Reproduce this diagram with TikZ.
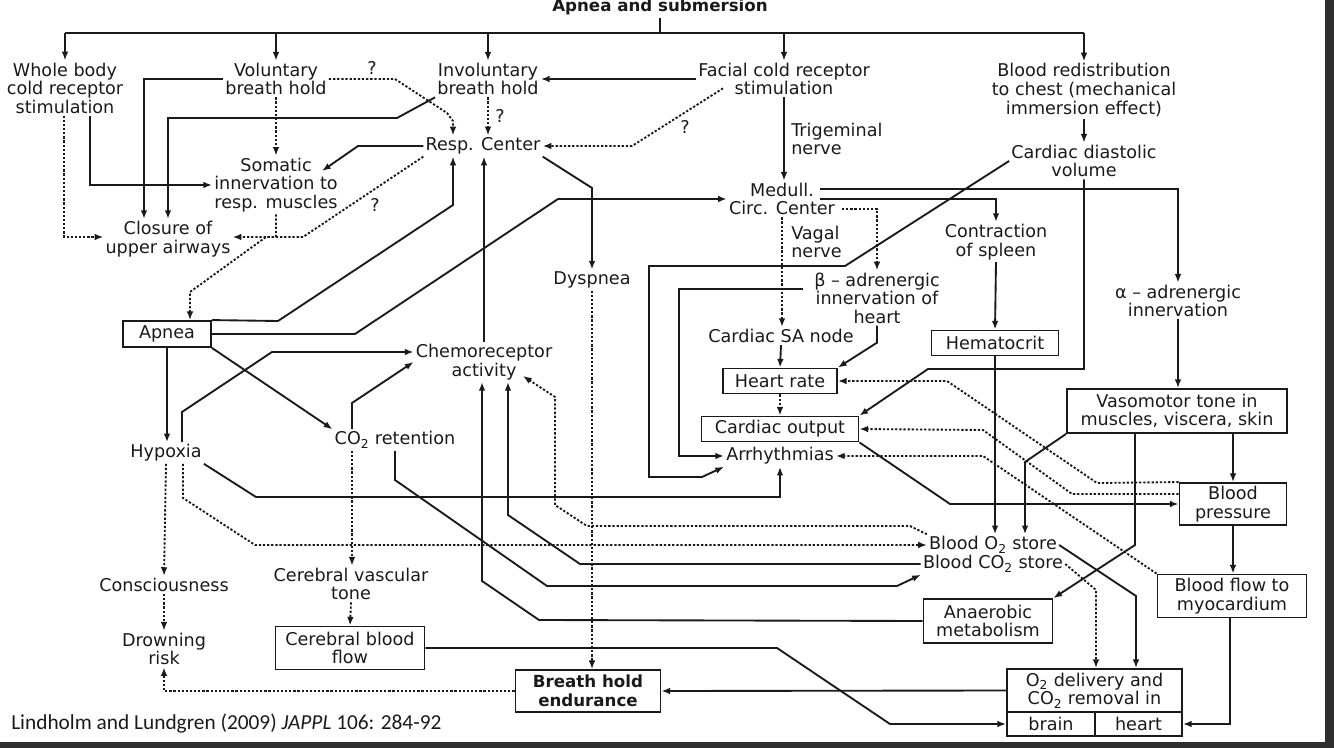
\documentclass[tikz,border=0pt]{standalone}
\usepackage{fontspec}
\setsansfont{DejaVu Sans}
\newfontfamily\citefont{Carlito}
\usetikzlibrary{arrows.meta,calc}
\definecolor{FigInk}{HTML}{1A1A1A}
\definecolor{FigFrame}{HTML}{2E2E2E}
\tikzset{
  every node/.style={font=\sffamily\fontsize{13.2}{13.9}\selectfont, text=FigInk, align=center, inner sep=1.5pt},
  bold/.style={font=\sffamily\bfseries\fontsize{12.5}{13.9}\selectfont},
  box/.style={draw=FigInk, line width=1.4pt, inner sep=1pt},
  wire/.style={draw=FigInk, line width=1.4pt},
  link/.style={-{Latex[length=6.5pt,width=5pt]}, wire},
  dotlink/.style={link, dash pattern=on 1.7pt off 1.4pt},
}
\begin{document}
\begin{tikzpicture}[x=0.75pt, y=-0.75pt]
  \useasboundingbox (0,0) rectangle (1334,748);
  % dark frame strips at right and bottom
  \fill[FigFrame] (1325,0) rectangle (1334,748);
  \fill[FigFrame] (0,742) rectangle (1334,748);

  % Causes along the top
  \node[bold, anchor=base] (title) at (660,12) {Apnea and submersion};
  \node (wbc) at (65,88) {Whole body\\cold receptor\\stimulation};
  \node (vol) at (276,79) {Voluntary\\breath hold};
  \node (invol) at (488,79) {Involuntary\\breath hold};
  \node (facial) at (784,79) {Facial cold receptor\\stimulation};
  \node (redist) at (1084,90) {Blood redistribution\\to chest (mechanical\\immersion effect)};

  % Question marks
  \node (q1) at (372,68) {?};
  \node (q2) at (500,116) {?};
  \node (q3) at (685,127) {?};
  \node (q4) at (375,205) {?};

  % Control centres and reflexes
  \node (resp) at (483,146) {Resp. Center};
  \node[anchor=west, align=left] (trig) at (789,139) {Trigeminal\\nerve};
  \node (somatic) at (276,185) {Somatic\\innervation to\\resp. muscles};
  \node (diast) at (1084,161) {Cardiac diastolic\\volume};
  \node (medull) at (782,199) {Medull.\\Circ. Center};
  \node (closure) at (168,239) {Closure of\\upper airways};
  \node (spleen) at (996,242) {Contraction\\of spleen};
  \node[anchor=west, align=left] (vagal) at (789,242) {Vagal\\nerve};
  \node (dysp) at (592,280) {Dyspnea};
  \node (beta) at (877,298) {β -- adrenergic\\innervation of\\heart};
  \node (alpha) at (1178,301) {α -- adrenergic\\innervation};

  % Middle band
  \node[box, minimum width=66pt, minimum height=19.5pt] (apnea) at (167,334) {Apnea};
  \node (sa) at (781,336) {Cardiac SA node};
  \node[box, minimum width=95.25pt, minimum height=18.75pt] (hemat) at (995,343) {Hematocrit};
  \node (chemo) at (484,362) {Chemoreceptor\\activity};
  \node[box, minimum width=85.5pt, minimum height=18.75pt] (hr) at (780,381) {Heart rate};
  \node[box, minimum width=165pt, minimum height=33pt] (vaso) at (1177,411) {Vasomotor tone in\\muscles, viscera, skin};
  \node[box, minimum width=117.75pt, minimum height=18.75pt] (co) at (780,429) {Cardiac output};
  \node (coret) at (395,440) {CO\textsubscript{2} retention};
  \node (hypox) at (166,453) {Hypoxia};
  \node (arrh) at (780,456) {Arrhythmias};
  \node[box, minimum width=80.25pt, minimum height=31.5pt] (bp) at (1233,504) {Blood\\pressure};
  \node (oxst) at (993,545) {Blood O\textsubscript{2} store};
  \node (cdst) at (993,564) {Blood CO\textsubscript{2} store};

  % Outcomes
  \node (consc) at (164,585) {Consciousness};
  \node (cvt) at (351,584) {Cerebral vascular\\tone};
  \node[box, minimum width=111.75pt, minimum height=32.25pt] (bfm) at (1232,596) {Blood flow to\\myocardium};
  \node[box, minimum width=96.75pt, minimum height=33pt] (anaer) at (988,621) {Anaerobic\\metabolism};
  \node (drown) at (164,649) {Drowning\\risk};
  \node[box, minimum width=111.75pt, minimum height=32.25pt] (cbf) at (350,648) {Cerebral blood\\flow};
  \node[box, bold, minimum width=108.75pt, minimum height=31.5pt] (bhe) at (588,691) {Breath hold\\endurance};
  \node[box, minimum width=131.25pt, minimum height=32.25pt] (deliv) at (1094.5,690.5) {O\textsubscript{2} delivery and\\CO\textsubscript{2} removal in};
  \node[box, minimum width=66pt, minimum height=18pt] (brain) at (1051,724) {brain};
  \node[box, minimum width=65.25pt, minimum height=18pt] (heart) at (1138.5,724) {heart};
  \node[anchor=west, font=\citefont\fontsize{16}{18}\selectfont] (cite) at (9,724) {Lindholm and Lundgren (2009) \textit{JAPPL} 106: 284-92};

  % Trunk from the title to the five causes
  \draw[wire] (title.south) -- (title.south |- 0,33);
  \draw[wire] (wbc.north |- 0,33) -- (redist.north |- 0,33);
  \foreach \n in {wbc,vol,invol,facial,redist}
    \draw[link] (\n.north |- 0,33) -- (\n.north);

  % Whole body cold receptors
  \draw[dotlink] (wbc.south -| 64,0) |- (closure.west |- 0,237);
  \draw[link] (wbc.south -| 90,0) |- (somatic.west);

  % Voluntary and involuntary breath hold
  \draw[link] (vol.west) -| (closure.north -| 144,0);
  \draw[dotlink] (vol.south) -- (somatic.north);
  \draw[dotlink] (vol.east) -- (395,79) -- (447,113) -- (453,121) -- (resp.north -| 453,0);
  \draw[link] (invol.south west) -- (397,118) -| (closure.north -| 168,0);
  \draw[dotlink] (invol.south) -- (resp.north -| invol.south);

  % Facial cold receptors and chest
  \draw[link] (facial.west) -- (invol.east);
  \draw[dotlink] ($(facial.south west)+(27,-9)$) -- (632,146) -- (resp.east);
  \draw[link] (facial.south) -- (medull.north -| facial.south);
  \draw[link] (redist.south) -- (diast.north);

  % Respiratory center
  \draw[link] (resp.west) -- (358,146) -- ($(somatic.center)+(46,-14)$);
  \draw[dotlink] (resp.south west) -- (303,237) -- (closure.east |- 0,237);
  \draw[dotlink] (somatic.south) -- (somatic.south |- 0,237) -- (266,237) -- (190,292) -- (apnea.north -| 190,0);
  \draw[link] (resp.south east) -- (592,188) -- (dysp.north);

  % Apnea
  \draw[link] (apnea.north east) -- (278,321) -- (453,205) -- (resp.south -| 453,0);
  \draw[link] (apnea.east) -- (355,334) -- (558,199) -- (medull.west |- 0,199);
  \draw[link] (apnea.south) -- (hypox.north -| apnea.south);
  \draw[link] (apnea.south east) -- (coret.north west);

  % Chemoreceptors
  \draw[link] (chemo.north) -- (resp.south -| chemo.north);
  \draw[link] (hypox.north -| 182,0) -- (182,412) -- (272,352) -- (chemo.west |- 0,352);
  \draw[link] (coret.north -| 352,0) -- (352,403) -- (chemo.west);

  % Medullary circulatory center
  \draw[link] ($(medull.center)+(38,-10)$) -| (alpha.north);
  \draw[link] ($(medull.center)+(38,0)$) -| (spleen.north);
  \draw[dotlink] ($(medull.center)+(60,10)$) -| (beta.north);
  \draw[dotlink] (medull.south) -- (sa.north -| medull.south);

  % Heart
  \draw[link] (sa.south) -- (hr.north);
  \draw[link] (beta.south) -- ++(0,17) -- (hr.north east);
  \draw[link] ($(beta.center)+(-74,-9)$) -- (679,289) |- (arrh.west);
  \draw[link] (diast.west) -- (845,266) -- (649,266) -- (649,477) -- (702,477) -- (arrh.south west);
  \draw[link] (diast.south) -- (diast.south |- 0,369) -- (928,369) -- (co.north east);
  \draw[dotlink] (hr.south) -- (co.north);

  % Spleen and vessels
  \draw[link] (spleen.south) -- (hemat.north);
  \draw[link] (alpha.south) -- (vaso.north -| alpha.south);
  \draw[link] (hemat.south) -- (oxst.north -| hemat.south);
  \draw[link] (vaso.south west) -- (1025,462) -- (oxst.north -| 1025,0);
  \draw[link] (vaso.south -| 1135,0) -- (1135,545) -- (anaer.north east);
  \draw[link] (vaso.south -| bp.north) -- (bp.north);
  \draw[link] (bp.south) -- (bfm.north -| bp.south);
  \draw[link] (bfm.south -| 1230,0) |- (heart.east);
  \draw[link] (co.south east) -- (950,504) -- (bp.west);

  % Feedback from pressure and myocardium
  \draw[dotlink] (bp.north west) -- (1097,483) -- (947,381) -- (hr.east);
  \draw[dotlink] (bp.west |- 0,494) -- (1072,494) -- (983,430) -- (co.east);
  \draw[dotlink] (bfm.north west) -- (983,456) -- (arrh.east);

  % Hypoxia and CO2
  \draw[link] (hypox.south east) -- (256,497) -| (arrh.south);
  \draw[dotlink] (hypox.south -| 183,0) -- (183,498) -- (255,545) -- (oxst.west);
  \draw[dotlink] (oxst.north west) -- (910,526) -- (587,526) -- (555,505) -- (555,397) -- ($(chemo.center)+(39,14)$);
  \draw[dotlink] (hypox.south) -- (consc.north);
  \draw[dotlink] (consc.south) -- (drown.north);
  \draw[dotlink] (coret.south -| 352,0) -- (cvt.north -| 352,0);
  \draw[dotlink] (cvt.south) -- (cbf.north);
  \draw[link] (coret.south -| 395,0) -- (395,480) -- (547,586) -- (897,586) -- (cdst.south west);
  \draw[link] (cdst.west) -- (580,564) -- (508,515) -- (chemo.south -| 508,0);
  \draw[link] (anaer.west) -- (539,620) -- (482,581) -- (chemo.south -| 482,0);

  % Bottom row
  \draw[link] (cbf.east) -- (777,648) -- (890,724) -- (brain.west);
  \draw[link] (deliv.west) -- (bhe.east);
  \draw[dotlink] (bhe.west) -| (drown.south);
  \draw[dotlink] (dysp.south) -- (bhe.north -| dysp.south);
  \draw[link] (oxst.east) -- (1136,596) -- (deliv.north -| 1136,0);
  \draw[dotlink] (cdst.east) -- (1096,590) -- (deliv.north -| 1096,0);
\end{tikzpicture}
\end{document}
